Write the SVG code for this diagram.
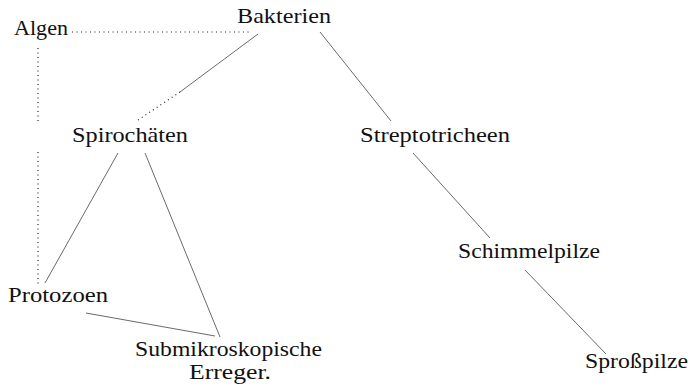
<svg xmlns="http://www.w3.org/2000/svg" width="691" height="386" viewBox="0 0 691 386">
<rect width="691" height="386" fill="#fff"/>
<g id="connectors" fill="none">
<g id="dotted" stroke="#222" stroke-width="1.2" stroke-dasharray="1 3.5">
<line x1="72" y1="32" x2="250" y2="32"/>
<line x1="38" y1="48" x2="38" y2="123"/>
<line x1="38" y1="152" x2="38" y2="284"/>
<line x1="180" y1="92" x2="138" y2="120"/>
</g>
<g id="solid" stroke="#444" stroke-width="0.8">
<line x1="258" y1="34" x2="180" y2="92"/>
<line x1="320" y1="32" x2="391" y2="121"/>
<line x1="118" y1="153" x2="45" y2="283"/>
<line x1="145" y1="153" x2="220" y2="337"/>
<line x1="86" y1="313" x2="215" y2="336"/>
<line x1="413" y1="153" x2="490" y2="238"/>
<line x1="525" y1="270" x2="606" y2="354"/>
</g>
</g>
<g id="bakterien"><text x="237" y="23" style="font-family:'Liberation Serif',serif;font-size:22px;fill:#111" textLength="94" lengthAdjust="spacingAndGlyphs">Bakterien</text></g>
<g id="algen"><text x="14" y="35" style="font-family:'Liberation Serif',serif;font-size:22px;fill:#111" textLength="54" lengthAdjust="spacingAndGlyphs">Algen</text></g>
<g id="spirochaeten"><text x="72" y="142" style="font-family:'Liberation Serif',serif;font-size:22px;fill:#111" textLength="116" lengthAdjust="spacingAndGlyphs">Spirochäten</text></g>
<g id="streptotricheen"><text x="360" y="142" style="font-family:'Liberation Serif',serif;font-size:22px;fill:#111" textLength="150" lengthAdjust="spacingAndGlyphs">Streptotricheen</text></g>
<g id="protozoen"><text x="8" y="302" style="font-family:'Liberation Serif',serif;font-size:22px;fill:#111" textLength="100" lengthAdjust="spacingAndGlyphs">Protozoen</text></g>
<g id="schimmelpilze"><text x="458" y="258" style="font-family:'Liberation Serif',serif;font-size:22px;fill:#111" textLength="142" lengthAdjust="spacingAndGlyphs">Schimmelpilze</text></g>
<g id="submikro"><text x="135" y="356" style="font-family:'Liberation Serif',serif;font-size:22px;fill:#111" textLength="187" lengthAdjust="spacingAndGlyphs">Submikroskopische</text><text x="189" y="379" style="font-family:'Liberation Serif',serif;font-size:22px;fill:#111" textLength="82" lengthAdjust="spacingAndGlyphs">Erreger.</text></g>
<g id="sprosspilze"><text x="585" y="368" style="font-family:'Liberation Serif',serif;font-size:22px;fill:#111" textLength="103" lengthAdjust="spacingAndGlyphs">Sproßpilze</text></g>
</svg>
